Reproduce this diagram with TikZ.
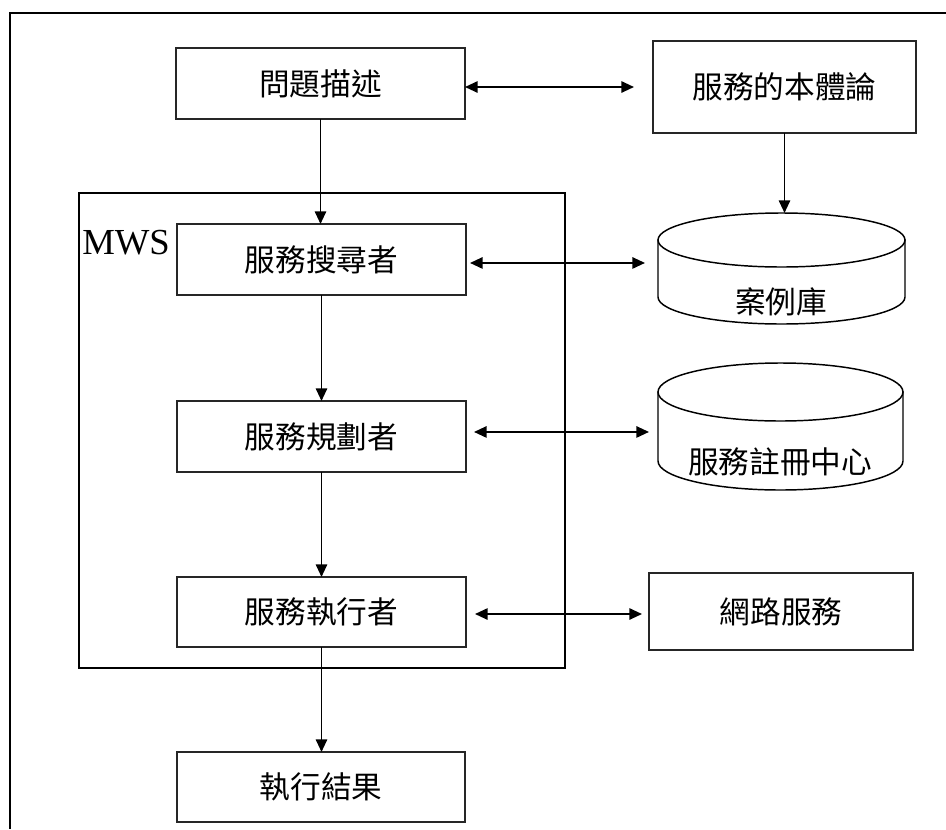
\documentclass[tikz,border=0pt]{standalone}
\usepackage{fontspec}
\newfontfamily\cjk{Noto Sans CJK TC}
\newfontfamily\latinserif{Liberation Serif}
\usetikzlibrary{arrows.meta,calc}

\tikzset{
  box/.style={draw=black!85, line width=0.9pt, fill=white, inner sep=0pt, outer sep=0pt,
    font=\cjk\fontsize{23}{23}\selectfont},
  holder/.style={inner sep=0pt, outer sep=0pt},
  cjktext/.style={inner sep=0pt, font=\cjk\fontsize{23}{23}\selectfont},
  frame/.style={line width=1.5pt, black},
  cylline/.style={draw=black, line width=1.1pt, fill=white},
  flow/.style={line width=1.4pt, -{Triangle[length=9.5pt,width=8.5pt]}},
  dbl/.style={line width=1.4pt, {Triangle[length=9.5pt,width=8.5pt]}-{Triangle[length=9.5pt,width=8.5pt]}},
}

\begin{document}
\begin{tikzpicture}[x=0.75pt,y=-0.75pt]
  \useasboundingbox (0,0) rectangle (946,829);
  \fill[white] (0,0) rectangle (946,829);

  % page frame (continues past the right and bottom edges)
  \coordinate (fr) at (946,13);
  \coordinate (fc) at (10,13);
  \coordinate (fb) at (10,829);
  \draw[frame] (fr) -- (fc) -- (fb);

  % MWS container
  \node[draw=black, line width=1.5pt, holder, minimum width=364.5pt, minimum height=356.25pt]
    (mws) at (322,430.5) {};
  \node[anchor=base west, inner sep=0pt, font=\latinserif\fontsize{27.5}{27.5}\selectfont]
    (mwslabel) at (82,254) {MWS};

  % process boxes
  \node[box, minimum width=216.75pt, minimum height=53.25pt] (q)  at (320.5,83.5) {問題描述};
  \node[box, minimum width=197.25pt, minimum height=69pt]    (o)  at (784.5,87)   {服務的本體論};
  \node[box, minimum width=216.75pt, minimum height=53.25pt] (s1) at (321.5,259.5) {服務搜尋者};
  \node[box, minimum width=216.75pt, minimum height=53.25pt] (s2) at (321.5,436.5) {服務規劃者};
  \node[box, minimum width=216.75pt, minimum height=52.5pt]  (s3) at (321.5,612)   {服務執行者};
  \node[box, minimum width=216pt,    minimum height=52.5pt]  (r)  at (321,787)     {執行結果};
  \node[box, minimum width=198pt,    minimum height=57.75pt] (net) at (781,611.5)  {網路服務};

  % data stores (cylinders)
  \node[holder, minimum width=185.25pt, minimum height=83.25pt] (c1) at (781.5,268.5) {};
  \path[cylline] (658,240) -- (658,297)
     arc[start angle=180, end angle=0, x radius=123.5, y radius=27] -- (905,240) -- cycle;
  \draw[cylline] (781.5,240) ellipse[x radius=123.5, y radius=27];
  \node[cjktext] (c1t) at (781,302) {案例庫};

  \node[holder, minimum width=183.75pt, minimum height=95.25pt] (c2) at (780.5,426.5) {};
  \path[cylline] (658,392) -- (658,461)
     arc[start angle=180, end angle=0, x radius=122.5, y radius=29] -- (903,392) -- cycle;
  \draw[cylline] (780.5,392) ellipse[x radius=122.5, y radius=29];
  \node[cjktext] (c2t) at (780,462) {服務註冊中心};

  % vertical flow
  \draw[flow] (q.south) -- (q.south |- s1.north);
  \draw[flow] (o.south) -- (o.south |- c1.north);
  \draw[flow] (s1.south) -- (s1.south |- s2.north);
  \draw[flow] (s2.south) -- (s2.south |- s3.north);
  \draw[flow] (s3.south) -- (s3.south |- r.north);

  % two-way links
  \draw[dbl, shorten >=14.25pt] (q.east |- o.west) -- (o.west);
  \draw[dbl, shorten <=3pt, shorten >=9.75pt]
    ([yshift=-2.6pt]s1.east) -- ([yshift=-2.6pt]s1.east -| c1.west);
  \draw[dbl, shorten <=6pt, shorten >=6.75pt]
    ([yshift=3.4pt]s2.east) -- ([yshift=3.4pt]s2.east -| c2.west);
  \draw[dbl, shorten <=6.75pt, shorten >=5.25pt]
    ([yshift=-1.5pt]s3.east) -- ([yshift=-1.5pt]s3.east -| net.west);
\end{tikzpicture}
\end{document}
